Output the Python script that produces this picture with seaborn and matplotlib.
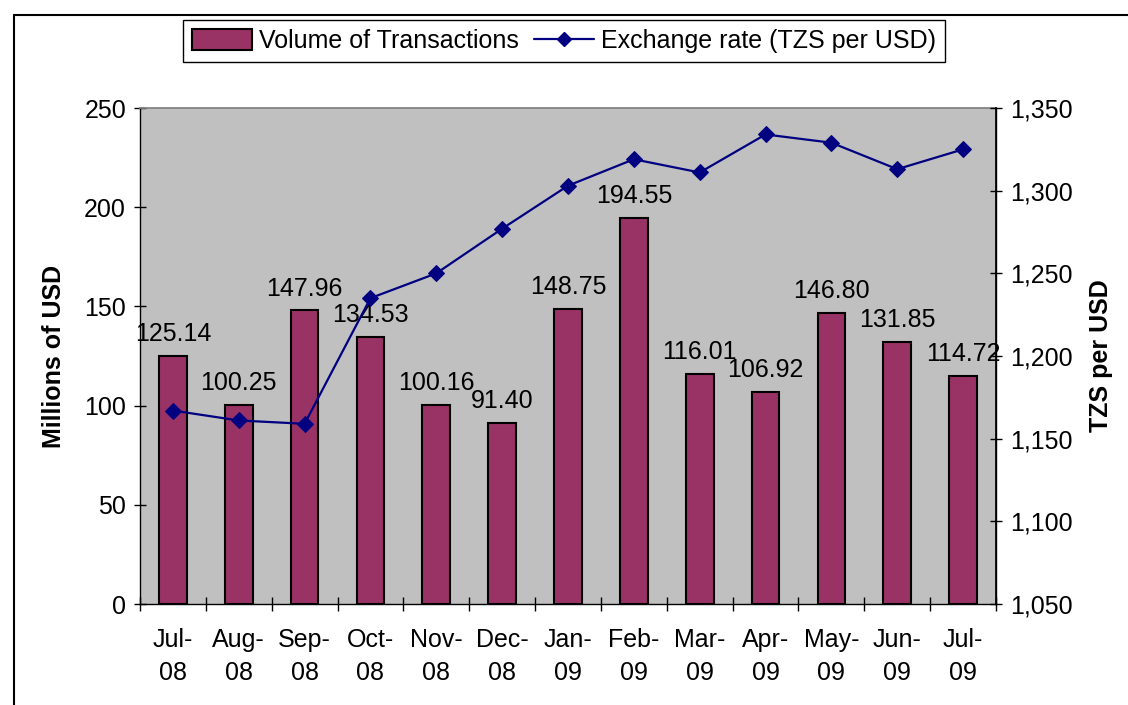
import matplotlib
matplotlib.use("Agg")
import matplotlib.pyplot as plt
import matplotlib.ticker as mticker
from matplotlib.lines import Line2D
from matplotlib.patches import Patch
import seaborn as sns
import pandas as pd

months = ["Jul-\n08", "Aug-\n08", "Sep-\n08", "Oct-\n08", "Nov-\n08", "Dec-\n08",
          "Jan-\n09", "Feb-\n09", "Mar-\n09", "Apr-\n09", "May-\n09", "Jun-\n09", "Jul-\n09"]
volume = [125.14, 100.25, 147.96, 134.53, 100.16, 91.40, 148.75, 194.55,
          116.01, 106.92, 146.80, 131.85, 114.72]
exchange = [1167, 1161, 1159, 1235, 1250, 1277, 1303, 1319, 1311, 1334, 1329, 1313, 1325]
left_ticks = [0, 50, 100, 150, 200, 250]
right_ticks = [1050, 1100, 1150, 1200, 1250, 1300, 1350]

sns.set_theme(style="white")
plt.rcParams['font.family'] = ['Liberation Sans', 'DejaVu Sans']
plt.rcParams['text.color'] = 'black'
plt.rcParams['axes.labelcolor'] = 'black'
plt.rcParams['xtick.color'] = 'black'
plt.rcParams['ytick.color'] = 'black'

bar_color = "#993366"
line_color = "#000080"
FS = 18

df = pd.DataFrame({"month": months, "volume": volume, "exchange": exchange,
                   "pos": list(range(len(months)))})

fig = plt.figure(figsize=(11.28, 7.05), dpi=100)
ax = fig.add_axes([140/1128, 1-604/705, (996-140)/1128, (604-108)/705])
ax.set_facecolor("#C0C0C0")

sns.barplot(data=df, x="month", y="volume", color=bar_color, width=0.42,
            edgecolor="black", linewidth=1.5, saturation=1, ax=ax)
ax.set_xlim(-0.5, len(months) - 0.5)
ax.set_ylim(0, 250)
ax.set_yticks(left_ticks)
ax.set_xlabel("")
ax.set_ylabel("Millions of USD", fontsize=FS, fontweight="bold", labelpad=13)
ax.tick_params(axis="y", labelsize=FS, direction="inout", length=8, width=1, left=True, pad=6)
ax.set_xticks(range(len(months)))
ax.set_xticklabels(months, fontsize=FS, linespacing=1.5)
ax.tick_params(axis="x", length=0, pad=17)
ax.set_xticks([i - 0.5 for i in range(len(months) + 1)], minor=True)
ax.tick_params(axis="x", which="minor", direction="inout", length=10, width=1, bottom=True)

for i, v in enumerate(volume):
    ax.text(i, v + 5, f"{v:.2f}", ha="center", va="bottom", fontsize=FS, color="black")

for s in ["left", "bottom", "right"]:
    ax.spines[s].set_color("black")
    ax.spines[s].set_linewidth(1)
ax.spines["top"].set_color("#808080")

ax2 = ax.twinx()
sns.lineplot(data=df, x="pos", y="exchange", color=line_color, marker="D",
             markersize=8, markeredgecolor=line_color, linewidth=1.6, ax=ax2)
ax2.set_ylim(1050, 1350)
ax2.set_yticks(right_ticks)
ax2.yaxis.set_major_formatter(mticker.StrMethodFormatter("{x:,.0f}"))
ax2.tick_params(axis="y", labelsize=FS, direction="inout", length=8, width=1, right=True, pad=6)
ax2.set_ylabel("TZS per USD", fontsize=FS, fontweight="bold", labelpad=12)
ax2.set_xlabel("")
ax2.set_xlim(-0.5, len(months) - 0.5)
for s in ["left", "bottom", "right", "top"]:
    ax2.spines[s].set_visible(False)
ax2.spines["right"].set_visible(True)
ax2.spines["right"].set_color("black")

handles = [Patch(facecolor=bar_color, edgecolor="black", linewidth=1.5),
           Line2D([], [], color=line_color, marker="D", markersize=7, linewidth=1.6)]
fig.legend(handles, ["Volume of Transactions", "Exchange rate (TZS per USD)"],
           loc="center", bbox_to_anchor=(0.5, 1 - 41/705), ncol=2, fontsize=FS,
           frameon=True, fancybox=False, edgecolor="black", framealpha=1,
           handlelength=2.4, handleheight=0.9, handletextpad=0.3, columnspacing=0.6,
           borderpad=0.35)

fig.add_artist(Line2D([14/1128, 14/1128], [0, 1 - 15/705], color="black", lw=1.5,
                      transform=fig.transFigure))
fig.add_artist(Line2D([14/1128, 1], [1 - 15/705, 1 - 15/705], color="black", lw=1.5,
                      transform=fig.transFigure))

fig.savefig("out.png", dpi=100)
